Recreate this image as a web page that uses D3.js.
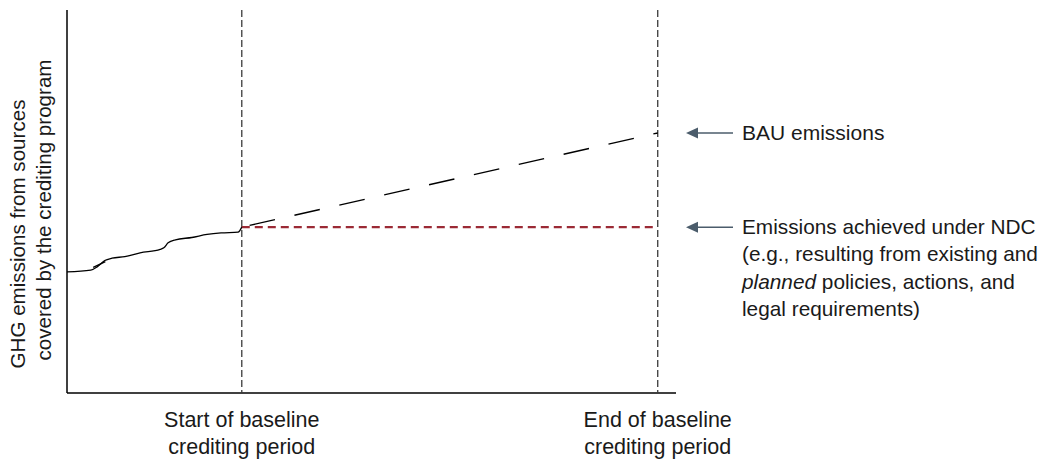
<!DOCTYPE html>
<html><head><meta charset="utf-8">
<script src="https://cdn.jsdelivr.net/npm/d3@7"></script>
<style>body{margin:0;background:#fff}text{font-family:"Liberation Sans",Arial,sans-serif;fill:#1a1a1a}</style>
</head><body><svg id="c" width="1048" height="462"></svg>
<script>
// Conceptual chart: time units 0..100, emission units 0..100
const periodLabels = [["Start of baseline","crediting period"],["End of baseline","crediting period"]];
const periodTimes = [28.7, 97.0];
const historicT = [0,3.9,5.0,6.2,7.4,9.5,12.0,15.3,15.9,16.6,17.8,20.5,23.0,25.3,28.1,28.7];
const historicE = [31.6,32.1,33.0,34.6,35.2,35.6,36.6,37.5,37.9,39.2,40.0,40.6,41.4,41.8,42.0,43.3];
const sketchMarkT = [4.3,6.3];
const sketchMarkE = [32.8,34.3];
const bauT = [28.7, 97.0];
const bauE = [43.3, 67.9];
const ndcT = [28.7, 97.0];
const ndcE = [43.3, 43.3];
const yTitle = ["GHG emissions from sources","covered by the crediting program"];
const bauLabel = ["BAU emissions"];
const ndcLabel = ["Emissions achieved under NDC","(e.g., resulting from existing and","<i>planned</i> policies, actions, and","legal requirements)"];

const svg = d3.select("#c");
const x = d3.scaleLinear().domain([0,100]).range([67,676]);
const y = d3.scaleLinear().domain([0,100]).range([393,10]);

svg.append("line").attr("x1",x(0)).attr("x2",x(0)).attr("y1",y(100)).attr("y2",y(0)).attr("stroke","#000").attr("stroke-width",1.5);
svg.append("line").attr("x1",x(0)).attr("x2",x(100)).attr("y1",y(0)).attr("y2",y(0)).attr("stroke","#000").attr("stroke-width",1.5);

periodTimes.forEach(t=>{
  svg.append("line").attr("x1",x(t)).attr("x2",x(t)).attr("y1",y(100)).attr("y2",y(0))
    .attr("stroke","#3a3a3a").attr("stroke-width",1.3).attr("stroke-dasharray","7,3");
});

const line = d3.line().x(d=>x(d[0])).y(d=>y(d[1]));
svg.append("path").datum(d3.zip(ndcT,ndcE)).attr("d",line).attr("fill","none")
  .attr("stroke","#9b2a35").attr("stroke-width",2.2).attr("stroke-dasharray","8,5");
svg.append("path").datum(d3.zip(bauT,bauE)).attr("d",line).attr("fill","none")
  .attr("stroke","#000").attr("stroke-width",1.4).attr("stroke-dasharray","26,20").attr("stroke-dashoffset",-8);
svg.append("path").datum(d3.zip(historicT,historicE)).attr("d",d3.line().x(d=>x(d[0])).y(d=>y(d[1])).curve(d3.curveMonotoneX)).attr("fill","none")
  .attr("stroke","#000").attr("stroke-width",1.3);
svg.append("path").datum(d3.zip(sketchMarkT,sketchMarkE)).attr("d",line).attr("fill","none")
  .attr("stroke","#000").attr("stroke-width",1.3);

// y title, each line placed separately
const yCenters = [234, 210];
const yXs = [25, 51];
yTitle.forEach((s,i)=>{
  svg.append("text").attr("font-size",20.6).attr("text-anchor","middle")
    .attr("transform",`translate(${yXs[i]},${yCenters[i]}) rotate(-90)`).text(s);
});

periodTimes.forEach((t,i)=>{
  const g = svg.append("text").attr("font-size",21.5).attr("text-anchor","middle").attr("x",x(t)).attr("y",427);
  periodLabels[i].forEach((s,j)=>g.append("tspan").attr("x",x(t)).attr("dy",j?27:0).text(s));
});

function arrow(yv){
  const yp = y(yv);
  svg.append("line").attr("x1",696).attr("x2",733).attr("y1",yp).attr("y2",yp).attr("stroke","#4b5c6b").attr("stroke-width",1.5);
  svg.append("path").attr("d",`M686,${yp} L698,${yp-5.5} L698,${yp+5.5} Z`).attr("fill","#4b5c6b");
}
arrow(bauE[1]);
arrow(ndcE[1]);

svg.append("text").attr("font-size",21).attr("x",742).attr("y",y(bauE[1])+7).text(bauLabel[0]);
const nt = svg.append("text").attr("font-size",20.8).attr("x",742).attr("y",y(ndcE[1])+7);
ndcLabel.forEach((s,i)=>{
  const ts = nt.append("tspan").attr("x",742).attr("dy",i?27.3:0);
  if(s.startsWith("<i>")){
    const m = s.match(/<i>(.*)<\/i>(.*)/);
    ts.append("tspan").attr("font-style","italic").text(m[1]);
    ts.append("tspan").text(m[2]);
  } else ts.text(s);
});
</script></body></html>
